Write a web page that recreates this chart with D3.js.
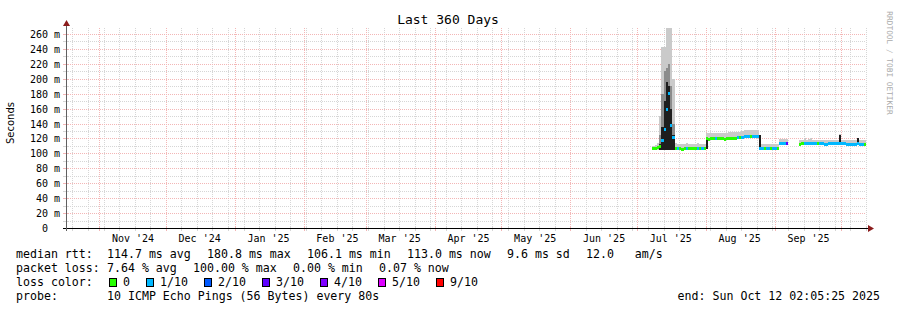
<!DOCTYPE html>
<html>
<head>
<meta charset="utf-8">
<script src="https://cdn.jsdelivr.net/npm/d3@7"></script>
<style>
  body { margin: 0; background: #fff; }
  text { white-space: pre; }
</style>
</head>
<body>
<div id="chart"></div>
<script>
// time window of the graph
var startTime = new Date(2024, 9, 17, 2, 5, 25);
var endTime = new Date(2025, 9, 12, 2, 5, 25);

// one value per day, starting at firstDay (null = no data)
var firstDay = new Date(2025, 6, 8);
var medianMs = [
  107, 107, 108, 110, 118, 133, 160, 181, 138, 122,                       // Jul 8-17
  107, 107, 107, 106.5, 107, 107, 107, 107, 107, 107, 107, 107, 107, 107, // Jul 18-31
  120, 119.5, 120, 120, 120, 120.5, 120, 120, 119.5, 120, 120, 120.5, 121, 121, // Aug 1-14
  121.5, 121.5, 121.5, 123.5, 123.5, 123.5, 123.5, 123.5, 123.5, 123.5,  // Aug 15-24
  107, 107, 107, 107, 107, 107, 107,                                      // Aug 25-31
  107, 107, 114, 114, 114, 114.5, null, null, null, null, null,           // Sep 1-11
  113, 113.5, 113.5, 113.5, 113.5, 114, 113.5, 113.5, 113.5, 113.5,       // Sep 12-21
  113.5, 113, 113, 113.5, 113.5, 113.5, 113.5, 113.5, 114,                // Sep 22-30
  113.5, 113.5, 113, 113, 113, 113, 113, 113.5, 113, 113, 113, 113        // Oct 1-12
];
var lossPings = [
  0, 0, 0, 0, 1, 1, 1, 1, 1, 1,
  0, 1, 0, 0, 0, 1, 0, 0, 0, 0, 1, 0, 1, 0,
  0, 0, 0, 0, 1, 0, 0, 0, 0, 0, 0, 0, 0, 0,
  1, 0, 1, 1, 1, 1, 0, 1, 1, 1,
  1, 1, 0, 1, 1, 0, 1,
  1, 0, 1, 1, 1, 3, null, null, null, null, null,
  0, 0, 1, 1, 1, 1, 1, 1, 0, 1,
  1, 1, 1, 1, 1, 1, 1, 1, 1,
  1, 1, 1, 1, 1, 1, 1, 1, 1, 1, 0, 0
];
var smokeLo = [
  105, 105, 105, 105, 104, 104, 105, 105, 104, 104,
  105, 105, 105, 105, 105, 105, 105, 105, 105, 105, 105, 105, 105, 105,
  106, 118, 118, 118, 118, 118, 118, 118, 118, 118, 118, 118, 118, 118,
  119, 119, 119, 121, 121, 121, 121, 121, 121, 121,
  105, 105, 105, 105, 105, 105, 105,
  105, 105, 112, 112, 112, 112, null, null, null, null, null,
  111.5, 111.5, 111.5, 111.5, 111.5, 111.5, 111.5, 111.5, 111.5, 111.5,
  111.5, 111.5, 111.5, 111.5, 111.5, 111.5, 111.5, 111.5, 111.5,
  111.5, 111.5, 111.5, 111.5, 111.5, 111.5, 111.5, 111.5, 111.5, 111.5, 111.5, 111.5
];
var smokeHi = [
  110, 111, 114, 150, 243, 243, 268, 268, 268, 200,
  114, 113, 113, 113, 113, 114, 113, 113, 113, 113, 114, 113, 113, 113,
  127, 127, 127, 127, 127, 127, 127, 127, 127, 127, 128, 128, 128, 128,
  129, 129, 130, 131, 131, 131, 131, 131, 131, 131,
  113, 112, 112, 112, 112, 112, 112,
  112, 112, 119, 119, 119, 119, null, null, null, null, null,
  118, 118, 121, 118, 119, 121, 118, 118, 118, 118,
  118, 118, 118, 118, 118, 118, 118, 118, 126,
  118, 118, 118, 118, 118, 118, 118, 121, 118, 118, 118, 118
];
// darker smoke layers (top of band, band starts at smokeLo)
var midDays = ["2025-07-11", "2025-07-12", "2025-07-13", "2025-07-14", "2025-07-15", "2025-07-16", "2025-07-17"];
var smokeMid = [125, 180, 210, 215, 220, 190, 140];
var coreDays = ["2025-07-11", "2025-07-12", "2025-07-13", "2025-07-14", "2025-07-15", "2025-07-16", "2025-07-17",
  "2025-08-01", "2025-08-25", "2025-09-30", "2025-10-08"];
var smokeCore = [112, 135, 170, 195, 190, 160, 125, 120, 124, 125, 120];

var yTicks = [0, 20, 40, 60, 80, 100, 120, 140, 160, 180, 200, 220, 240, 260];
var yMinor = [10, 30, 50, 70, 90, 110, 130, 150, 170, 190, 210, 230, 250];

var rttStats = ["114.7 ms avg", "180.8 ms max", "106.1 ms min", "113.0 ms now", "9.6 ms sd", "12.0   am/s"];
var lossStats = ["7.64 % avg", "100.00 % max", "0.00 % min", "0.07 % now"];
var lossLabels = ["0", "1/10", "2/10", "3/10", "4/10", "5/10", "9/10"];
var lossColors = ["#26ff00", "#00b8ff", "#0059ff", "#5e00ff", "#7e00ff", "#dd00ff", "#ff0000"];

var W = 897, H = 310;
var pL = 66, pT = 28, pW = 800, pH = 200;
var mono = "'DejaVu Sans Mono', monospace";

var x = d3.scaleTime().domain([startTime, endTime]).range([pL, pL + pW]);
var y = d3.scaleLinear().domain([0, 268]).range([pT + pH, pT]);
var lossColor = d3.scaleThreshold().domain([1, 2, 3, 4, 5, 9]).range(lossColors);
var parseDay = d3.timeParse("%Y-%m-%d");

var svg = d3.select("#chart").append("svg")
  .attr("width", W).attr("height", H);
svg.append("rect").attr("width", W).attr("height", H).attr("fill", "#fff");

var px = function(v) { return Math.round(v) + 0.5; };

// ---- grid
var minorCol = "#d6d6d6", majorCol = "#f3b6b6";
var grid = svg.append("g").attr("class", "grid");

var weeks = d3.timeSunday.range(startTime, endTime).filter(function(d) { return d.getDate() != 1; });
var months = d3.timeMonth.range(startTime, endTime);

function vLines(vals, col) {
  grid.append("g").selectAll("line").data(vals).join("line")
    .attr("x1", function(d) { return px(x(d)); }).attr("x2", function(d) { return px(x(d)); })
    .attr("y1", pT).attr("y2", pT + pH)
    .attr("stroke", col).attr("stroke-dasharray", "1,1");
  grid.append("g").selectAll("line").data(vals).join("line")
    .attr("x1", function(d) { return px(x(d)); }).attr("x2", function(d) { return px(x(d)); })
    .attr("y1", pT + pH - 2).attr("y2", pT + pH + 3)
    .attr("stroke", col);
}
function hLines(vals, col) {
  grid.append("g").selectAll("line").data(vals).join("line")
    .attr("y1", function(d) { return px(y(d)); }).attr("y2", function(d) { return px(y(d)); })
    .attr("x1", pL).attr("x2", pL + pW)
    .attr("stroke", col).attr("stroke-dasharray", "1,1");
  grid.append("g").selectAll("line").data(vals).join("line")
    .attr("y1", function(d) { return px(y(d)); }).attr("y2", function(d) { return px(y(d)); })
    .attr("x1", pL - 3).attr("x2", pL + 2)
    .attr("stroke", col);
}
vLines(weeks, minorCol);
hLines(yMinor, minorCol);
vLines(months, majorCol);
hLines(yTicks.filter(function(d) { return d > 0; }), majorCol);

// ---- data
var days = medianMs.map(function(m, i) {
  return {day: d3.timeDay.offset(firstDay, i), median: m, loss: lossPings[i], lo: smokeLo[i], hi: smokeHi[i]};
}).filter(function(d) { return d.median != null; });
var byDay = {};
days.forEach(function(d) { byDay[+d.day] = d; });

svg.append("clipPath").attr("id", "plot")
  .append("rect").attr("x", pL).attr("y", pT).attr("width", pW).attr("height", pH);
var plot = svg.append("g").attr("clip-path", "url(#plot)").attr("shape-rendering", "crispEdges");

function band(sel, col) {
  sel.attr("x", function(d) { return x(d.day); })
    .attr("width", function(d) { return x(d3.timeDay.offset(d.day, 1)) - x(d.day); })
    .attr("y", function(d) { return y(d.top); })
    .attr("height", function(d) { return y(d.lo) - y(d.top); })
    .attr("fill", col);
}

plot.append("g").selectAll("rect")
  .data(days.map(function(d) { return {day: d.day, lo: d.lo, top: d.hi}; }))
  .join("rect").call(band, "#cacaca");

plot.append("g").selectAll("rect")
  .data(midDays.map(function(s, i) { var d = byDay[+parseDay(s)]; return {day: d.day, lo: d.lo, top: smokeMid[i]}; }))
  .join("rect").call(band, "#8c8c8c");

plot.append("g").selectAll("rect")
  .data(coreDays.map(function(s, i) { var d = byDay[+parseDay(s)]; return {day: d.day, lo: d.lo, top: smokeCore[i]}; }))
  .join("rect").call(band, "#1e1e1e");

plot.append("g").selectAll("rect").data(days).join("rect")
  .attr("x", function(d) { return x(d.day); })
  .attr("width", function(d) { return x(d3.timeDay.offset(d.day, 1)) - x(d.day); })
  .attr("y", function(d) { return Math.round(y(d.median)) - 1; })
  .attr("height", 3)
  .attr("fill", function(d) { return lossColor(d.loss); });

// ---- axes
var axisCol = "#8b1c1c";
svg.append("line").attr("x1", pL - 3).attr("x2", pL + pW + 4)
  .attr("y1", pT + pH + 0.5).attr("y2", pT + pH + 0.5).attr("stroke", "#000");
svg.append("line").attr("x1", pL + 0.5).attr("x2", pL + 0.5)
  .attr("y1", pT + pH + 3).attr("y2", pT - 4).attr("stroke", "#606060");
svg.append("path")
  .attr("d", "M" + (pL + pW + 2) + "," + (pT + pH - 3) + "L" + (pL + pW + 8) + "," + (pT + pH + 0.5) +
    "L" + (pL + pW + 2) + "," + (pT + pH + 4) + "Z")
  .attr("fill", axisCol);
svg.append("path")
  .attr("d", "M" + (pL - 3) + "," + (pT - 2) + "L" + (pL + 0.5) + "," + (pT - 8) + "L" + (pL + 4) + "," + (pT - 2) + "Z")
  .attr("fill", axisCol);

var yAxis = svg.append("g").attr("transform", "translate(60,0)")
  .call(d3.axisLeft(y).tickValues(yTicks).tickSize(0).tickPadding(0)
    .tickFormat(function(d) { return d ? d + " m" : "0\u00a0\u00a0"; }));
yAxis.select(".domain").remove();
yAxis.selectAll("text").attr("font-family", mono).attr("font-size", 10).attr("fill", "#000").attr("dy", "0.35em");

var labelDays = months.map(function(m) { return d3.timeDay.offset(m, 15); })
  .filter(function(d) { return d < endTime; });
var xAxis = svg.append("g").attr("transform", "translate(0," + (pT + pH + 7) + ")")
  .call(d3.axisBottom(x).tickValues(labelDays).tickSize(0).tickPadding(0).tickFormat(d3.timeFormat("%b '%y")));
xAxis.select(".domain").remove();
xAxis.selectAll("text").attr("font-family", mono).attr("font-size", 10).attr("fill", "#000");

// ---- titles
svg.append("text").attr("x", 448).attr("y", 24).attr("text-anchor", "middle")
  .attr("font-family", mono).attr("font-size", 13).text("Last 360 Days");
svg.append("text").attr("transform", "translate(14,123) rotate(-90)").attr("text-anchor", "middle")
  .attr("font-family", "'DejaVu Sans', sans-serif").attr("font-size", 10).text("Seconds");
svg.append("text").attr("transform", "translate(887,63) rotate(90)").attr("text-anchor", "middle")
  .attr("font-family", mono).attr("font-size", 7.8).attr("fill", "#aaa").text("RRDTOOL / TOBI OETIKER");

// ---- legend
var cw = 7, legendSize = 11.6;
var legend = svg.append("g").attr("font-family", mono).attr("font-size", legendSize).attr("fill", "#000");

function statRow(label, items, yb) {
  legend.append("text").attr("x", 16).attr("y", yb).text(label);
  var xx = 107;
  items.forEach(function(s) {
    legend.append("text").attr("x", xx).attr("y", yb).text(s);
    xx += s.length * cw + 16;
  });
}
statRow("median rtt:", rttStats, 258);
statRow("packet loss:", lossStats, 272);

legend.append("text").attr("x", 16).attr("y", 286).text("loss color:");
var bx = 109;
lossLabels.forEach(function(s, i) {
  legend.append("rect").attr("x", bx + 0.5).attr("y", 278.5).attr("width", 7).attr("height", 8)
    .attr("fill", lossColors[i]).attr("stroke", "#000");
  legend.append("text").attr("x", bx + 14).attr("y", 286).text(s);
  bx += 14 + s.length * cw + 16;
});

legend.append("text").attr("x", 16).attr("y", 300).text("probe:");
legend.append("text").attr("x", 107).attr("y", 300).text("10 ICMP Echo Pings (56 Bytes) every 80s");
legend.append("text").attr("x", 880).attr("y", 300).attr("text-anchor", "end").text("end: Sun Oct 12 02:05:25 2025");
</script>
</body>
</html>
